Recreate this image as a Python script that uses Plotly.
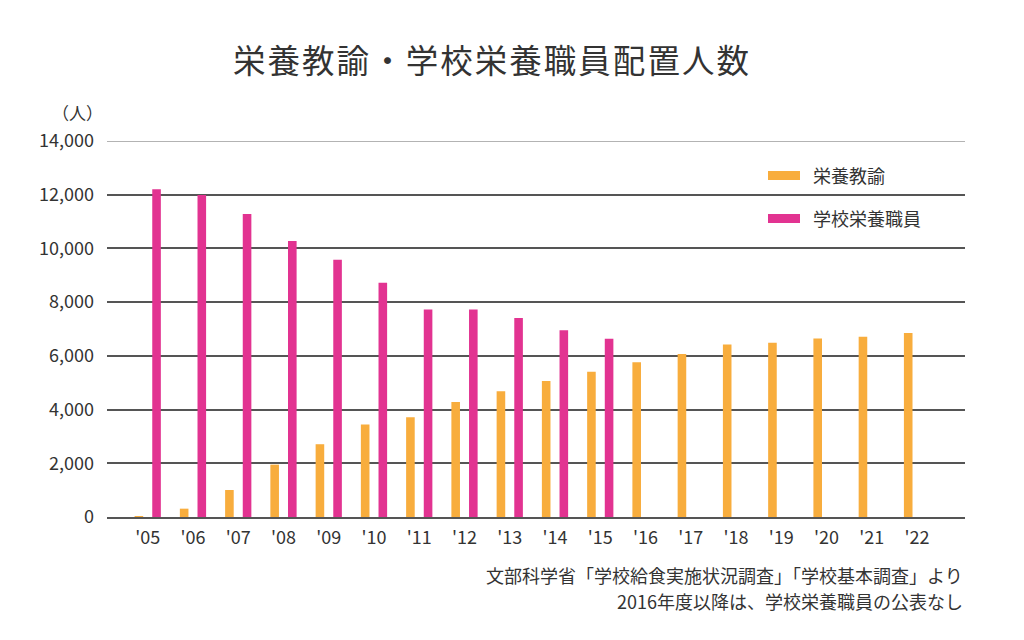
import plotly.graph_objects as go

years = ["'05", "'06", "'07", "'08", "'09", "'10", "'11", "'12", "'13",
         "'14", "'15", "'16", "'17", "'18", "'19", "'20", "'21", "'22"]
eiyo_kyoyu = [34, 310, 1005, 1950, 2710, 3440, 3710, 4280, 4680,
              5060, 5410, 5760, 6070, 6420, 6490, 6650, 6710, 6850]
gakko_eiyo = [12200, 11990, 11280, 10280, 9580, 8720, 7730, 7730, 7410,
              6950, 6640]
y_ticks = [0, 2000, 4000, 6000, 8000, 10000, 12000, 14000]
y_tick_text = ["0", "2,000", "4,000", "6,000", "8,000", "10,000", "12,000", "14,000"]

name_a = "栄養教諭"
name_b = "学校栄養職員"
title_text = "栄養教諭・学校栄養職員配置人数"
unit_text = "（人）"
note1 = "文部科学省「学校給食実施状況調査」「学校基本調査」より"
note2 = "2016年度以降は、学校栄養職員の公表なし"

ORANGE = "#F8AD3D"
PINK = "#E23391"
FONT = "Noto Sans CJK JP"
TXT = "#333333"

# page body has an 8px default margin; compensate
OFF = 8
L, R, T, B = 107 - OFF, 59 + OFF, 141 - OFF, 123 + OFF
PW, PH = 858, 376


def px(xpix):
    return (xpix - 107) / PW


def py(ypix):
    return 1 - (ypix - 141) / PH


fig = go.Figure()
fig.add_trace(go.Bar(x=years, y=eiyo_kyoyu, name=name_a, marker_color=ORANGE,
                     marker_line_width=0, width=0.19, offset=-0.29, showlegend=False))
fig.add_trace(go.Bar(x=years[:len(gakko_eiyo)], y=gakko_eiyo, name=name_b,
                     marker_color=PINK, marker_line_width=0, width=0.19, offset=0.10,
                     showlegend=False))

spaced_title = "\u200a".join(title_text)

fig.update_layout(
    width=1024, height=640,
    margin=dict(l=L, r=R, t=T, b=B),
    paper_bgcolor="white", plot_bgcolor="white",
    barmode="overlay",
    font=dict(family=FONT, color=TXT, size=16),
    xaxis=dict(type="category", categoryorder="array", categoryarray=years,
               range=[-0.9, 18.06], showgrid=False, zeroline=False,
               showline=True, linecolor="#555555", linewidth=1.5,
               ticks="", tickfont=dict(size=18, color=TXT, family=FONT),
               ticklabelstandoff=4),
    yaxis=dict(range=[0, 14000], tickvals=y_ticks, ticktext=y_tick_text,
               showgrid=True, gridcolor="#555555", gridwidth=1.5,
               zeroline=False, showline=False, ticks="",
               tickfont=dict(size=18, color=TXT, family=FONT),
               ticklabelstandoff=12),
    annotations=[
        dict(text=spaced_title, xref="paper", yref="paper", x=px(491),
             y=py(58), xanchor="center", yanchor="middle",
             showarrow=False, font=dict(size=32.5, color=TXT, family=FONT)),
        dict(text=unit_text, xref="paper", yref="paper", x=px(77),
             y=py(113), xanchor="center", yanchor="middle",
             showarrow=False, font=dict(size=17, color=TXT, family=FONT)),
        dict(text=name_a, xref="paper", yref="paper", x=px(811),
             y=py(175), xanchor="left", yanchor="middle",
             showarrow=False, font=dict(size=18, color=TXT, family=FONT)),
        dict(text=name_b, xref="paper", yref="paper", x=px(811),
             y=py(218), xanchor="left", yanchor="middle",
             showarrow=False, font=dict(size=18, color=TXT, family=FONT)),
        dict(text=note1, xref="paper", yref="paper", x=1.0,
             y=py(575), xanchor="right", yanchor="middle",
             showarrow=False, font=dict(size=18, color=TXT, family=FONT)),
        dict(text=note2, xref="paper", yref="paper", x=1.0,
             y=py(601), xanchor="right", yanchor="middle",
             showarrow=False, font=dict(size=18, color=TXT, family=FONT)),
    ],
    shapes=[
        dict(type="line", xref="paper", yref="y", x0=0, x1=1, y0=14000, y1=14000,
             line=dict(color="#9a9a9a", width=1.5)),
        dict(type="rect", xref="paper", yref="paper",
             x0=px(768), x1=px(800), y0=py(180), y1=py(171),
             fillcolor=ORANGE, line=dict(width=0)),
        dict(type="rect", xref="paper", yref="paper",
             x0=px(768), x1=px(800), y0=py(223), y1=py(214),
             fillcolor=PINK, line=dict(width=0)),
    ],
)

fig.write_html("out.html")
